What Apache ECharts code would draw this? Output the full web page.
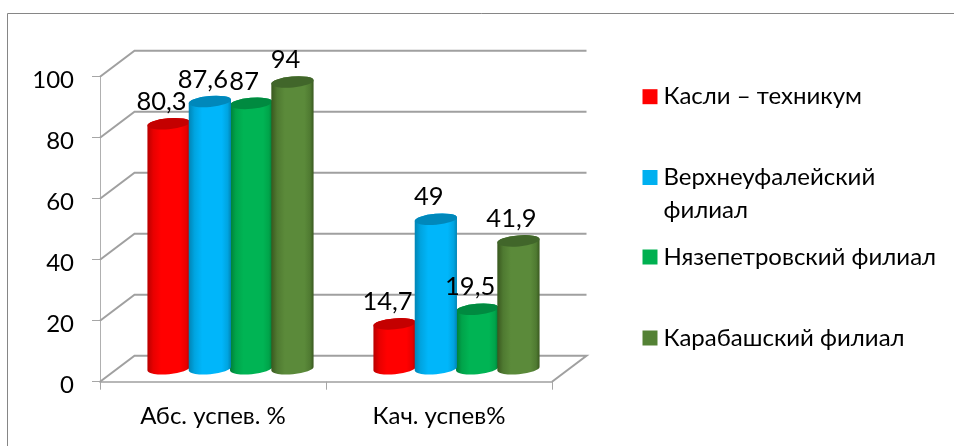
<!DOCTYPE html>
<html><head><meta charset="utf-8">
<style>html,body{margin:0;padding:0;background:#fff}#c{width:954px;height:446px}</style>
<script src="https://cdn.jsdelivr.net/npm/echarts@6/dist/echarts.min.js"></script>
</head><body><div id="c"></div>
<script>
const categories = ['Абс. успев. %', 'Кач. успев%'];
const yTicks = [0, 20, 40, 60, 80, 100];
const kasli = [80.3, 14.7];
const verkh = [87.6, 49];
const nyaz = [87, 19.5];
const karab = [94, 41.9];
const seriesNames = ['Касли – техникум', 'Верхнеуфалейский\nфилиал', 'Нязепетровский филиал', 'Карабашский филиал'];
const seriesValues = [kasli, verkh, nyaz, karab];
const colors = ['#ff0000', '#00b0f0', '#00b050', '#548235'];

const FONT = 'Lato, "Open Sans", sans-serif';
const palettes = [
  {edge:'#b80000', soft:'#e80000', mid:'#ff0000', top:'#c40000'},
  {edge:'#0084b4', soft:'#00a4e0', mid:'#00b6fa', top:'#0088bb'},
  {edge:'#007c38', soft:'#00a44a', mid:'#00b454', top:'#008a40'},
  {edge:'#39581f', soft:'#4f7a31', mid:'#5b8a3a', top:'#41662a'}
];
const depthX = 34.5, depthY = 26, midX = 17.5, midY = 13, barStep = 41.3, barW = 42.4, ry = 5.5, tilt = 5;
const rad = tilt * Math.PI / 180;

function barItem(si) {
  return function (params, api) {
    const pal = palettes[si];
    const top = api.coord([api.value(0), api.value(1)]);
    const base = api.coord([api.value(0), 0]);
    const cx = top[0] + (si - 1.5) * barStep + midX;
    const ty = top[1] - midY, by = base[1] - midY;
    const rx = barW / 2, dx = rx * Math.cos(rad), dy = rx * Math.sin(rad);
    const body = `M${cx-dx} ${ty+dy}L${cx-dx} ${by+dy}A${rx} ${ry} ${-tilt} 0 0 ${cx+dx} ${by-dy}L${cx+dx} ${ty-dy}A${rx} ${ry} ${-tilt} 0 0 ${cx-dx} ${ty+dy}Z`;
    const cap = `M${cx-dx} ${ty+dy}A${rx} ${ry} ${-tilt} 0 0 ${cx+dx} ${ty-dy}A${rx} ${ry} ${-tilt} 0 0 ${cx-dx} ${ty+dy}Z`;
    const fill = new echarts.graphic.LinearGradient(0, 0, 1, 0, [
      {offset:0, color:pal.edge},{offset:.14, color:pal.soft},{offset:.32, color:pal.mid},
      {offset:.78, color:pal.mid},{offset:.92, color:pal.soft},{offset:1, color:pal.edge}]);
    return {type:'group', children:[
      {type:'path', shape:{pathData:body}, style:{fill}},
      {type:'path', shape:{pathData:cap}, style:{fill:pal.top}}
    ]};
  };
}

const option = {
  animation:false,
  backgroundColor:'#ffffff',
  textStyle:{fontFamily:FONT},
  graphic:[{type:'polyline', silent:true, shape:{points:[[7.5,460],[7.5,13.5],[960,13.5]]}, style:{fill:null, stroke:'#868686', lineWidth:1}}],
  grid:{left:100, right:402, top:76.7, height:305},
  xAxis:{type:'category', data:categories,
    axisLine:{lineStyle:{color:'#a0a0a0', width:1.6}},
    axisTick:{show:true, length:8, alignWithLabel:false, lineStyle:{color:'#a6a6a6', width:1}},
    axisLabel:{color:'#000', fontSize:24, fontFamily:FONT, margin:23, interval:0}},
  yAxis:{type:'value', min:0, max:100, interval:20,
    axisLine:{show:true, lineStyle:{color:'#b0b0b0', width:1}},
    axisTick:{show:true, length:8, lineStyle:{color:'#a6a6a6', width:1}},
    splitLine:{show:false},
    axisLabel:{color:'#000', fontSize:24, fontFamily:FONT, margin:26, verticalAlign:'top', lineHeight:8}},
  legend:seriesNames.map((n, i) => ({
    data:[n], orient:'vertical', left:642.5, top:[84.7, 161, 245, 326][i],
    padding:0, selectedMode:false,
    itemWidth:15, itemHeight:i === 1 ? 48 : 15, itemGap:0,
    icon:i === 1 ? 'path://M0 0H15V15H0ZM0 48L0.01 48' : 'rect',
    textStyle:{color:'#000', fontSize:24, fontFamily:FONT, padding:[0,0,0,1], lineHeight:i === 1 ? 33 : 24}
  })),
  series:[
    {type:'custom', name:'wall', z:1, silent:true, clip:false, encode:{x:0, y:1},
      data:yTicks.map(v => [0, v]),
      renderItem(params, api) {
        const band = api.size([1, 0])[0];
        const p = api.coord([0, api.value(1)]);
        const x0 = p[0] - band / 2, y0 = p[1];
        const x1 = x0 + band * categories.length;
        const style = {fill:null, stroke:'#a0a0a0', lineWidth:2};
        const pts = [[x0, y0], [x0 + depthX, y0 - depthY], [x1 + depthX, y0 - depthY]];
        if (api.value(1) === 0) pts.push([x1, y0]);
        return {type:'polyline', shape:{points:pts}, style};
      }},
    ...seriesNames.map((n, si) => ({
      type:'custom', name:n, z:(si % 2) ? 4 : 3, silent:true, clip:false, encode:{x:0, y:1},
      itemStyle:{color:colors[si]},
      data:seriesValues[si].map((v, c) => [c, v]),
      renderItem:barItem(si)
    })),
    {type:'custom', name:'labels', z:6, silent:true, clip:false, encode:{x:0, y:1},
      data:seriesValues.flatMap((vals, si) => vals.map((v, c) => [c, v, si])),
      renderItem(params, api) {
        const v = api.value(1), si = api.value(2);
        const top = api.coord([api.value(0), v]);
        return {type:'text', x:top[0] + (si - 1.5) * barStep + midX - 7, y:top[1] - midY - 22,
          style:{text:String(v).replace('.', ','), fill:'#000', font:'25.5px ' + FONT, align:'center', verticalAlign:'middle'}};
      }}
  ]
};
echarts.init(document.getElementById('c'), null, {renderer:'canvas'}).setOption(option);
</script></body></html>
